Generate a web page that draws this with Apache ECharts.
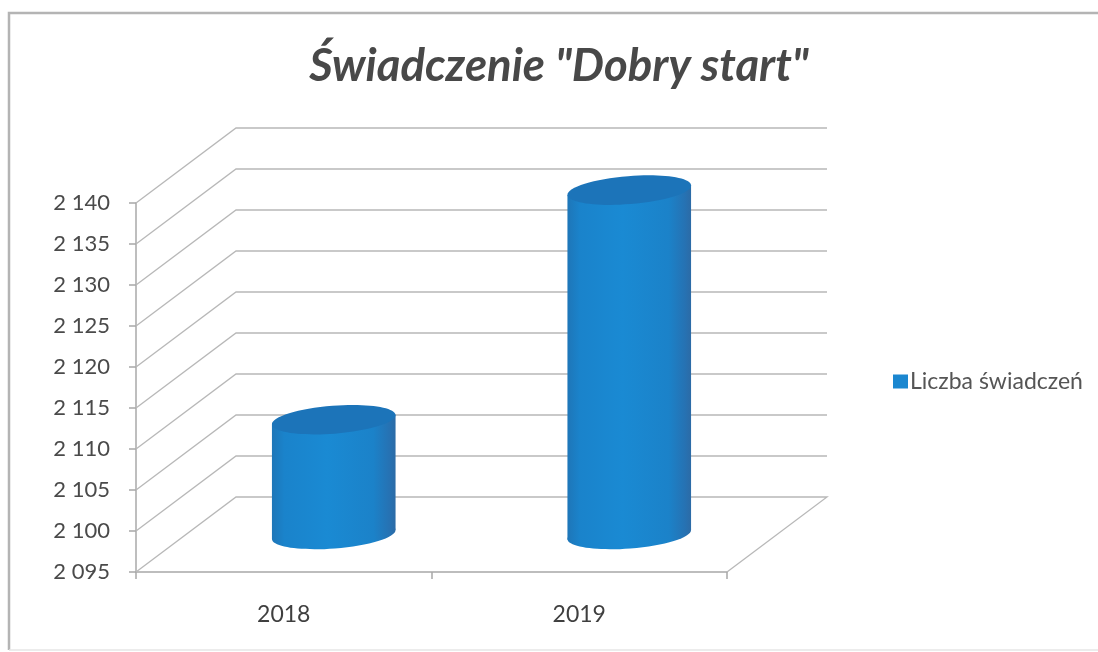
<!DOCTYPE html>
<html>
<head>
<meta charset="utf-8">
<style>html,body{margin:0;padding:0;background:#fff}#c{width:1098px;height:652px}</style>
<script src="https://cdn.jsdelivr.net/npm/echarts@6/dist/echarts.min.js"></script>
</head>
<body>
<div id="c"></div>
<script>
var categories = ['2018', '2019'];
var seriesName = 'Liczba świadczeń';
var values = [2109, 2137];
var tickValues = [2095, 2100, 2105, 2110, 2115, 2120, 2125, 2130, 2135, 2140];
var titleText = 'Świadczenie "Dobry start"';

var DX = 100, DY = -75;
var chart = echarts.init(document.getElementById('c'));

function thousands(v) {
  var s = String(v);
  return s.slice(0, s.length - 3) + ' ' + s.slice(-3);
}

function renderWall(params, api) {
  var cs = params.coordSys;
  var v = api.value(1);
  var y = api.coord([0, v])[1];
  var x0 = cs.x, x1 = cs.x + cs.width;
  var pts = [[x0, y], [x0 + DX, y + DY], [x1 + DX, y + DY]];
  if (v === tickValues[0]) pts.push([x1, y]);
  return {
    type: 'polyline',
    shape: { points: pts },
    style: { stroke: '#b8b8b8', lineWidth: 1.3, fill: 'none' },
    silent: true
  };
}

function renderCylinder(params, api) {
  var top = api.coord([api.value(0), api.value(1)]);
  var base = api.coord([api.value(0), tickValues[0]]);
  var cx = top[0] + DX / 2;
  var ty = top[1] + DY / 2;
  var by = base[1] + DY / 2;
  var rx = 62, ry = 14;
  var t = -4.5 * Math.PI / 180;
  var ex = rx * Math.cos(t), ey = rx * Math.sin(t);
  function grad() {
    return new echarts.graphic.LinearGradient(0, 0, 1, 0, [
      { offset: 0, color: '#1e76b8' },
      { offset: 0.1, color: '#1a83cb' },
      { offset: 0.45, color: '#1a8ad3' },
      { offset: 0.82, color: '#1b82c9' },
      { offset: 0.95, color: '#2672b3' },
      { offset: 1, color: '#2c6ba6' }
    ]);
  }
  return {
    type: 'group',
    children: [
      {
        type: 'ellipse',
        shape: { cx: 0, cy: 0, rx: rx, ry: ry },
        x: cx, y: by, rotation: -t,
        style: { fill: grad() }
      },
      {
        type: 'polygon',
        shape: { points: [[cx - ex, ty - ey], [cx - ex, by - ey], [cx + ex, by + ey], [cx + ex, ty + ey]] },
        style: { fill: grad() }
      },
      {
        type: 'ellipse',
        shape: { cx: 0, cy: 0, rx: rx, ry: ry },
        x: cx, y: ty, rotation: -t,
        style: { fill: '#1c74b9' }
      }
    ]
  };
}

chart.setOption({
  animation: false,
  backgroundColor: '#ffffff',
  title: {
    text: titleText,
    left: 554,
    top: 38,
    textAlign: 'center',
    textStyle: { fontFamily: 'Lato', fontSize: 45.5, fontWeight: 'bold', fontStyle: 'italic', color: '#484848' }
  },
  legend: {
    data: [seriesName],
    left: 888,
    top: 365,
    icon: 'rect',
    itemWidth: 15,
    itemHeight: 14,
    itemGap: 6,
    textStyle: { fontFamily: 'Lato', fontSize: 23, color: '#555555', padding: [0, 0, 0, -3] }
  },
  grid: { left: 136, top: 203, width: 591, height: 369, containLabel: false },
  xAxis: {
    type: 'category',
    data: categories,
    axisLine: { lineStyle: { color: '#a8a8a8', width: 1.5 } },
    axisTick: { show: true, length: 7, alignWithLabel: false, lineStyle: { color: '#a8a8a8', width: 1.5 } },
    axisLabel: { margin: 31, fontFamily: 'Lato', fontSize: 23, color: '#3f3f3f' }
  },
  yAxis: {
    type: 'value',
    min: 2095,
    max: 2140,
    interval: 5,
    axisLine: { show: true, lineStyle: { color: '#a8a8a8', width: 1.5 } },
    axisTick: { show: true, length: 7, lineStyle: { color: '#a8a8a8', width: 1.5 } },
    splitLine: { show: false },
    axisLabel: { margin: 26, fontFamily: 'Lato', fontSize: 22, color: '#4a4a4a', formatter: thousands }
  },
  graphic: [
    {
      type: 'polyline',
      silent: true,
      z: -1,
      shape: { points: [[9, 650], [9, 13], [1098, 13]] },
      style: { fill: 'none', stroke: '#b4b4b4', lineWidth: 2.5 }
    },
    {
      type: 'line',
      silent: true,
      z: -1,
      shape: { x1: 9, y1: 650, x2: 1098, y2: 650 },
      style: { stroke: '#e6e6e6', lineWidth: 1.5 }
    }
  ],
  series: [
    {
      type: 'custom',
      name: 'wall',
      renderItem: renderWall,
      data: tickValues.map(function (v) { return [0, v]; }),
      encode: { x: 0, y: 1 },
      z: 1,
      silent: true
    },
    {
      type: 'custom',
      name: seriesName,
      renderItem: renderCylinder,
      itemStyle: { color: '#1b87d0' },
      data: values.map(function (v, i) { return [i, v]; }),
      encode: { x: 0, y: 1 },
      z: 3
    }
  ]
});
</script>
</body>
</html>
